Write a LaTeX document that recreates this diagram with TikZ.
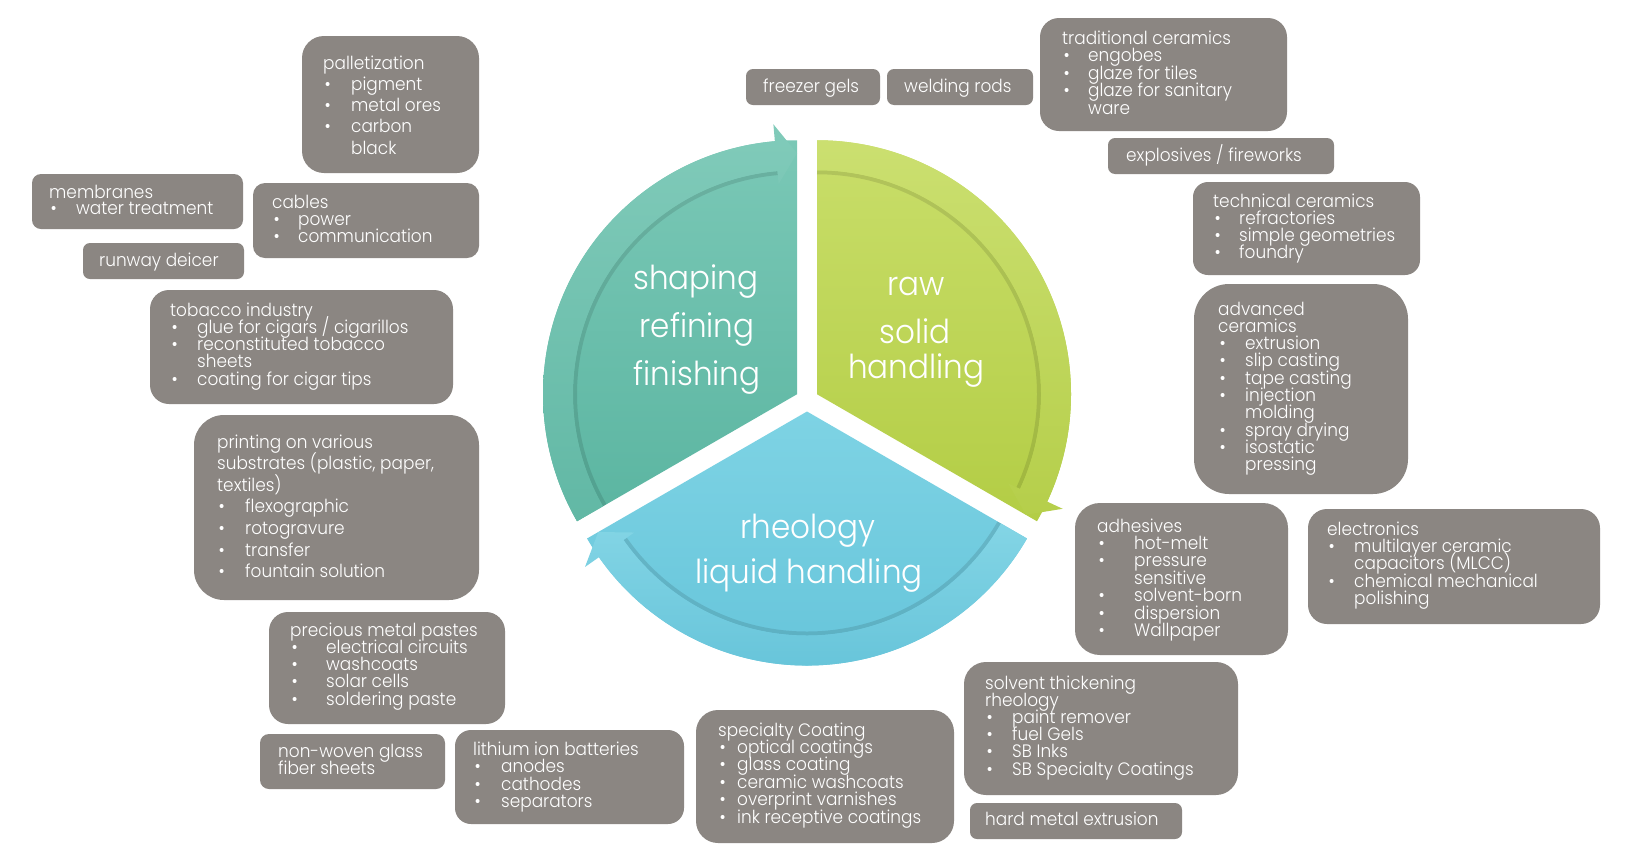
\documentclass[tikz,border=0pt]{standalone}
\usepackage{fontspec}
\IfFontExistsTF{Poppins Light}{\setmainfont{Poppins Light}[FakeStretch=0.94]}{\setmainfont{Poppins}[FakeStretch=0.94]}
\definecolor{boxgrey}{HTML}{8B8682}
\definecolor{tealtop}{HTML}{7AC8B6}
\definecolor{tealbot}{HTML}{5BB5A1}
\definecolor{greentop}{HTML}{C9DE6A}
\definecolor{greenbot}{HTML}{B3CD45}
\definecolor{bluetop}{HTML}{7ED3E4}
\definecolor{bluebot}{HTML}{63C3D9}
\tikzset{
  box/.style={fill=boxgrey, draw=none, inner sep=0pt},
  txt/.style={text=white, inner sep=0pt, font=\fontsize{18}{18}\selectfont},
  big/.style={text=white, inner sep=0pt, font=\fontsize{33}{33}\selectfont, anchor=base},
  shadowline/.style={draw=black, line width=4pt, opacity=0.11},
}
\newlength\bind
\newcommand\bu[1]{\makebox[\bind][l]{\hspace{1.5pt}\textbullet}#1}
\newcommand\cn[1]{\hspace{\bind}#1}
\newcommand\mkbox[6]{%
  \node[box, rounded corners=#6pt, minimum width={#4-#2}, minimum height={#5-#3}] (#1) at ({(#2+#4)/2},{(#3+#5)/2}) {};}
\newcommand\tlines[6]{%
  \setlength\bind{#5pt}%
  \foreach \t [count=\i from 0] in {#6} {\node[txt, anchor=base west] (#1t\i) at (#2, {#3+\i*#4}) {\t};}}
\newcommand\band[4]{%
  ([shift={(#1)}]#2:224) -- ([shift={(#1)}]#2:254) arc[start angle=#2, end angle=#3, radius=254]
  -- ([shift={(#1)}]#3:271) -- ([shift={(#1)}]#4:241) -- ([shift={(#1)}]#3:211)
  -- ([shift={(#1)}]#3:224) arc[start angle=#3, end angle=#2, radius=224] -- cycle}
\begin{document}
\begin{tikzpicture}[x=1pt, y=-1pt]
\useasboundingbox (0,0) rectangle (1630,860);
\fill[white] (0,0) rectangle (1630,860);

% ---------- cycle ----------
\coordinate (tA) at (797,394.25);
\coordinate (gA) at (817,394.25);
\coordinate (bA) at (807,411.5);

\shade[top color=tealtop, bottom color=tealbot] (tA) -- ++(-90:254) arc[start angle=-90, end angle=-210, radius=254] -- cycle;
\shade[top color=greentop, bottom color=greenbot] (gA) -- ++(-90:254) arc[start angle=-90, end angle=30, radius=254] -- cycle;
\shade[top color=bluetop, bottom color=bluebot] (bA) -- ++(30:254) arc[start angle=30, end angle=150, radius=254] -- cycle;

\draw[shadowline] ([shift={(tA)}]-210:222) arc[start angle=-210, end angle=-95, radius=222];
\draw[shadowline] ([shift={(gA)}]-90:222) arc[start angle=-90, end angle=25, radius=222];
\draw[shadowline] ([shift={(bA)}]-330:222) arc[start angle=-330, end angle=-215, radius=222];

\shade[top color=tealtop!95!white, bottom color=tealbot!96!white] \band{tA}{-210}{-95}{-90};
\shade[top color=greentop!96!white, bottom color=greenbot!97!white] \band{gA}{-90}{25}{30};
\shade[top color=bluetop!96!white, bottom color=bluebot!97!white] \band{bA}{-330}{-215}{-210};

\node[big] (c1) at (696,289) {shaping};
\node[big] (c2) at (697,337) {refining};
\node[big] (c3) at (697,385) {finishing};
\node[big] (c4) at (916,295) {raw};
\node[big] (c5) at (915,343) {solid};
\node[big] (c6) at (916,378) {handling};
\node[big] (c7) at (808,538) {rheology};
\node[big] (c8) at (809,583) {liquid handling};

% ---------- boxes ----------
\mkbox{palB}{302}{36}{479}{173}{22}
\mkbox{memB}{32}{174}{243}{229}{9}
\mkbox{cabB}{253}{183}{479}{258}{12}
\mkbox{runB}{83}{243}{244}{279}{7}
\mkbox{tobB}{150}{290}{453}{404}{19}
\mkbox{priB}{194}{415}{479}{600}{30}
\mkbox{preB}{269}{612}{505}{724}{19}
\mkbox{nonB}{260}{734}{445}{789}{9}
\mkbox{litB}{455}{730}{684}{824}{16}
\mkbox{speB}{696}{710}{954}{843}{22}
\mkbox{harB}{970}{803}{1182}{839}{7}
\mkbox{solB}{964}{662}{1238}{795}{22}
\mkbox{adhB}{1075}{503}{1288}{655}{25}
\mkbox{eleB}{1308}{509}{1600}{624}{19}
\mkbox{advB}{1194}{284}{1408}{494}{35}
\mkbox{tecB}{1193}{182}{1420}{275}{15}
\mkbox{expB}{1108}{138}{1334}{174}{7}
\mkbox{traB}{1040}{18}{1287}{131}{19}
\mkbox{welB}{887}{69}{1033}{105}{7}
\mkbox{freB}{746}{69}{880}{105}{7}

% ---------- texts ----------
\tlines{pal}{323}{69}{21.3}{28}{palletization, \bu{pigment}, \bu{metal ores}, \bu{carbon}, \cn{black}}
\tlines{mem}{49}{198}{16.7}{27}{membranes, \bu{water treatment}}
\tlines{cab}{272}{208}{17}{26}{cables, \bu{power}, \bu{communication}}
\tlines{run}{99}{266}{0}{0}{runway deicer}
\tlines{tob}{170}{316}{17.3}{27}{tobacco industry, {\bu{glue for cigars / cigarillos}}, \bu{reconstituted tobacco}, \cn{sheets}, \bu{coating for cigar tips}}
\tlines{pri}{217}{448}{21.6}{28}{printing on various, {substrates (plastic, paper,}, textiles), \bu{flexographic}, \bu{rotogravure}, \bu{transfer}, \bu{fountain solution}}
\tlines{pre}{290}{636}{17.3}{36}{precious metal pastes, \bu{electrical circuits}, \bu{washcoats}, \bu{solar cells}, \bu{soldering paste}}
\tlines{non}{278}{757}{17.5}{0}{non-woven glass, fiber sheets}
\tlines{lit}{473}{755}{17.6}{28}{lithium ion batteries, \bu{anodes}, \bu{cathodes}, \bu{separators}}
\tlines{spe}{718}{736}{17.4}{19}{specialty Coating, \bu{optical coatings}, \bu{glass coating}, \bu{ceramic washcoats}, \bu{overprint varnishes}, \bu{ink receptive coatings}}
\tlines{har}{985}{825}{0}{0}{hard metal extrusion}
\tlines{sol}{985}{689}{17.2}{27}{solvent thickening, rheology, \bu{paint remover}, \bu{fuel Gels}, \bu{SB Inks}, \bu{SB Specialty Coatings}}
\tlines{adh}{1097}{532}{17.4}{37}{adhesives, \bu{hot-melt}, \bu{pressure}, \cn{sensitive}, \bu{solvent-born}, \bu{dispersion}, \bu{Wallpaper}}
\tlines{ele}{1327}{535}{17.4}{27}{electronics, \bu{multilayer ceramic}, \cn{capacitors (MLCC)}, \bu{chemical mechanical}, \cn{polishing}}
\tlines{adv}{1218}{315}{17.3}{27}{advanced, ceramics, \bu{extrusion}, \bu{slip casting}, \bu{tape casting}, \bu{injection}, \cn{molding}, \bu{spray drying}, \bu{isostatic}, \cn{pressing}}
\tlines{tec}{1213}{207}{17.3}{26}{technical ceramics, \bu{refractories}, \bu{simple geometries}, \bu{foundry}}
\tlines{exp}{1126}{161}{0}{0}{{explosives / fireworks}}
\tlines{tra}{1062}{44}{17.5}{26}{traditional ceramics, \bu{engobes}, \bu{glaze for tiles}, \bu{glaze for sanitary}, \cn{ware}}
\tlines{wel}{904}{92}{0}{0}{welding rods}
\tlines{fre}{763}{92}{0}{0}{freezer gels}
\end{tikzpicture}
\end{document}
